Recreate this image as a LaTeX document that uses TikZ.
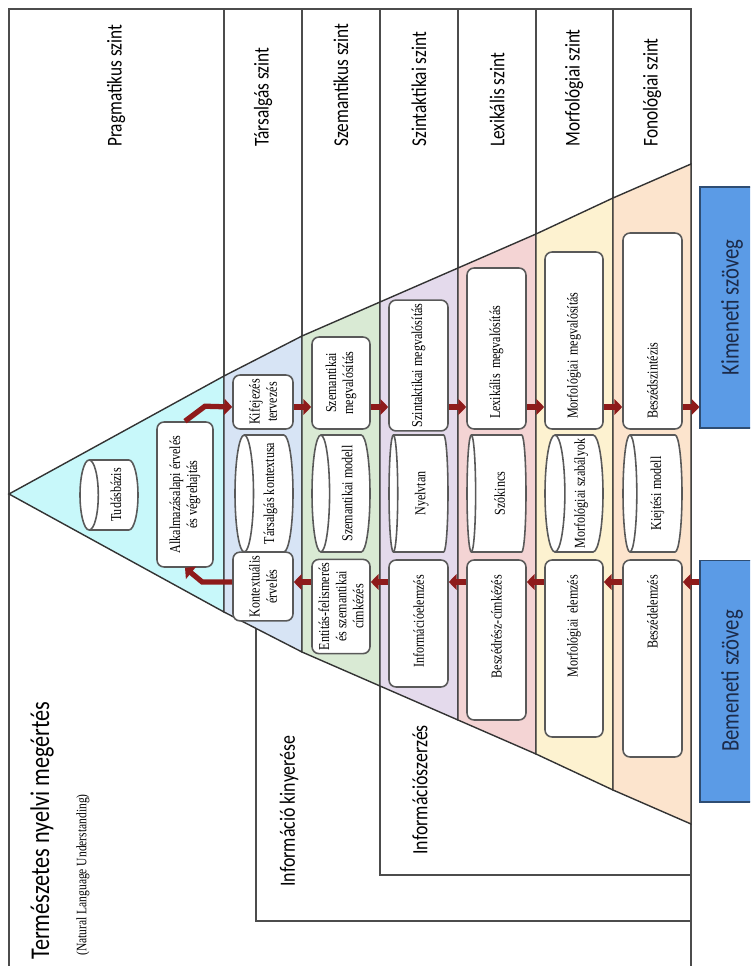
\documentclass[tikz,border=0pt]{standalone}
\usepackage{fontspec}
\setmainfont{Liberation Serif}
\newfontfamily\levelFont[FakeStretch=0.82]{Carlito}
\newfontfamily\stepFont[FakeStretch=0.8]{Liberation Serif}
\usetikzlibrary{shapes.geometric}
\usetikzlibrary{arrows.meta}
\definecolor{pragmaFill}{HTML}{C8F8FA}
\definecolor{dialogFill}{HTML}{D7E4F5}
\definecolor{semFill}{HTML}{D9EAD4}
\definecolor{synFill}{HTML}{E4DAEC}
\definecolor{lexFill}{HTML}{F4D4D4}
\definecolor{morphFill}{HTML}{FDF2D0}
\definecolor{phonFill}{HTML}{FCE4CD}
\definecolor{ioBlue}{HTML}{5B9BE6}
\definecolor{ioText}{HTML}{1C2B4A}
\definecolor{arrowRed}{HTML}{8E1B1B}

\begin{document}
\begin{tikzpicture}[x=0.02cm,y=-0.02cm,%%
  frameStyle/.style={draw=black!70,line width=0.7pt},%%
  bandStyle/.style={draw=black!80,line width=0.8pt},%%
  stepStyle/.style={draw=black!65,line width=0.9pt,fill=white,rounded corners=4pt,rotate=90,inner sep=2pt,align=center,font=\stepFont\fontsize{8.6}{9.8}\selectfont},%%
  upStepStyle/.style={stepStyle,align=left,inner xsep=0.2cm},%%
  downStepStyle/.style={stepStyle,align=right,inner xsep=0.3cm},%%
  storeStyle/.style={cylinder,shape border rotate=90,aspect=0.17,anchor=shape center,draw=black!65,line width=0.9pt,fill=white,rotate=90,inner sep=2pt,font=\stepFont\fontsize{8.6}{9.8}\selectfont},%%
  levelStyle/.style={rotate=90,anchor=west,inner sep=0pt,font=\levelFont\fontsize{12}{14}\selectfont},%%
  groupStyle/.style={levelStyle,font=\levelFont\fontsize{12.4}{14}\selectfont},%%
  ioStyle/.style={draw=black!50!ioBlue,line width=0.6pt,fill=ioBlue,rotate=90,minimum height=1.28cm,text=ioText,font=\levelFont\fontsize{14.4}{16}\selectfont},%%
  arrowStyle/.style={-{Triangle[length=4.5pt,width=9pt]},line width=3pt,draw=arrowRed}
]
\useasboundingbox (0,0) rectangle (750,966);
\clip (0,0) rectangle (750,966);
%% The frames round the levels.
\draw[frameStyle] (9,9) rectangle (691,990);
\draw[frameStyle] (256,500) rectangle (691,921);
\draw[frameStyle] (380,500) rectangle (691,875);
\foreach \xcol/\ytop in {224/376,302/336,380/302,458/268,536/234,613/198}
  \draw[frameStyle] (\xcol,9) -- (\xcol,\ytop);
%% The pyramid, one band for each level.
\filldraw[bandStyle,fill=pragmaFill] (9,494) -- (224,376) -- (224,612) -- cycle;
\filldraw[bandStyle,fill=dialogFill] (224,376) -- (302,336) -- (302,652) -- (224,612) -- cycle;
\filldraw[bandStyle,fill=semFill] (302,336) -- (380,302) -- (380,686) -- (302,652) -- cycle;
\filldraw[bandStyle,fill=synFill] (380,302) -- (458,268) -- (458,720) -- (380,686) -- cycle;
\filldraw[bandStyle,fill=lexFill] (458,268) -- (536,234) -- (536,754) -- (458,720) -- cycle;
\filldraw[bandStyle,fill=morphFill] (536,234) -- (613,198) -- (613,790) -- (536,754) -- cycle;
\filldraw[bandStyle,fill=phonFill] (613,198) -- (691,164) -- (691,824) -- (613,790) -- cycle;
%% Level names.
\node[levelStyle] (pragLabel) at (116,147) {Pragmatikus szint};
\node[levelStyle] (dialLabel) at (263,147) {Társalgás szint};
\node[levelStyle] (semLabel) at (341,147) {Szemantikus szint};
\node[levelStyle] (synLabel) at (419,147) {Szintaktikai szint};
\node[levelStyle] (lexLabel) at (497,147) {Lexikális szint};
\node[levelStyle] (morphLabel) at (574,147) {Morfológiai szint};
\node[levelStyle] (phonLabel) at (652,147) {Fonológiai szint};
\node[groupStyle,font=\levelFont\fontsize{15.4}{18}\selectfont] (nluLabel) at (42,960) {Természetes nyelvi megértés};
\node[groupStyle,font=\stepFont\fontsize{8.2}{9}\selectfont] (nluNote) at (83,956) {(Natural Language Understanding)};
\node[groupStyle] (ieLabel) at (289,887) {Információ kinyerése};
\node[groupStyle] (irLabel) at (420,855) {Információszerzés};
%% Pragmatic level.
\node[storeStyle,aspect=0.3,minimum width=1.4cm,minimum height=1.16cm] (tudas) at (109,495) {Tudásbázis};
\node[stepStyle,minimum width=2.9cm,minimum height=1.12cm] (alk) at (185,494.5) {Alkalmazásalapi érvelés\\és végrehajtás};
%% Dialogue level.
\node[stepStyle,minimum width=1.08cm,minimum height=1.2cm] (kif) at (263,402) {Kifejezés\\tervezés};
\node[storeStyle,minimum width=2.34cm,minimum height=1.16cm] (tkont) at (264,493.5) {Társalgás kontextusa};
\node[stepStyle,minimum width=1.06cm,minimum height=1.2cm] (kontx) at (263,586.5) {Kontextuális\\érvelés};
%% Semantic level.
\node[stepStyle,minimum width=1.84cm,minimum height=1.16cm] (szemmeg) at (341,383) {Szemantikai\\megvalósítás};
\node[storeStyle,minimum width=2.34cm,minimum height=1.16cm] (szemmod) at (341,493.5) {Szemantikai modell};
\node[stepStyle,minimum width=1.86cm,minimum height=1.16cm] (entit) at (341,606.5) {Entitás-felismerés\\és szemantikai\\címkézés};
%% Syntactic level.
\node[stepStyle,minimum width=2.54cm,minimum height=1.18cm] (szintmeg) at (418.5,365.5) {Szintaktikai megvalósítás};
\node[storeStyle,minimum width=2.34cm,minimum height=1.18cm] (nyelvtan) at (418.5,493.5) {Nyelvtan};
\node[downStepStyle,text width=1.94cm,minimum height=1.18cm] (infelem) at (418.5,623.5) {Információelemzés};
%% Lexical level.
\node[upStepStyle,text width=2.82cm,minimum height=1.18cm] (lexmeg) at (496.5,348.5) {Lexikális megvalósítás};
\node[storeStyle,minimum width=2.34cm,minimum height=1.18cm] (szokincs) at (496.5,493.5) {Szókincs};
\node[downStepStyle,text width=2.6cm,minimum height=1.18cm] (beszcimk) at (496.5,640) {Beszédrész-címkézés};
%% Morphological level.
\node[upStepStyle,text width=3.14cm,minimum height=1.16cm] (morfmeg) at (574,340.5) {Morfológiai megvalósítás};
\node[storeStyle,minimum width=2.34cm,minimum height=1.16cm] (morfszab) at (574,493.5) {Morfológiai szabályok};
\node[downStepStyle,text width=2.94cm,minimum height=1.16cm] (morfelem) at (574,648.5) {Morfológiai elemzés};
%% Phonological level.
\node[upStepStyle,text width=3.52cm,minimum height=1.18cm] (beszszint) at (652.5,331) {Beszédszintézis};
\node[storeStyle,minimum width=2.34cm,minimum height=1.18cm] (kiejt) at (652.5,493.5) {Kiejtési modell};
\node[downStepStyle,text width=3.34cm,minimum height=1.18cm] (beszelem) at (652.5,658.5) {Beszédelemzés};
%% Input and output text.
\node[ioStyle,minimum width=4.82cm] (kimeneti) at (732,307.5) {Kimeneti szöveg};
\node[ioStyle,minimum width=4.84cm] (bemeneti) at (732,681) {Bemeneti szöveg};
%% Generation runs to the right, analysis to the left.
\coordinate (topRow) at (0,407);
\coordinate (botRow) at (0,582);
\draw[arrowStyle] (alk.east) -- ++(20,-15) -- (kif.north |- topRow);
\draw[arrowStyle] (kif.south |- topRow) -- (szemmeg.north |- topRow);
\draw[arrowStyle] (szemmeg.south |- topRow) -- (szintmeg.north |- topRow);
\draw[arrowStyle] (szintmeg.south |- topRow) -- (lexmeg.north |- topRow);
\draw[arrowStyle] (lexmeg.south |- topRow) -- (morfmeg.north |- topRow);
\draw[arrowStyle] (morfmeg.south |- topRow) -- (beszszint.north |- topRow);
\draw[arrowStyle] (beszszint.south |- topRow) -- (kimeneti.north |- topRow);
\draw[arrowStyle] (bemeneti.north |- botRow) -- (beszelem.south |- botRow);
\draw[arrowStyle] (beszelem.north |- botRow) -- (morfelem.south |- botRow);
\draw[arrowStyle] (morfelem.north |- botRow) -- (beszcimk.south |- botRow);
\draw[arrowStyle] (beszcimk.north |- botRow) -- (infelem.south |- botRow);
\draw[arrowStyle] (infelem.north |- botRow) -- (entit.south |- botRow);
\draw[arrowStyle] (entit.north |- botRow) -- (kontx.south |- botRow);
\draw[arrowStyle] (kontx.north |- botRow) -- ++(-30,0) -- (alk.west);
\end{tikzpicture}
\end{document}
